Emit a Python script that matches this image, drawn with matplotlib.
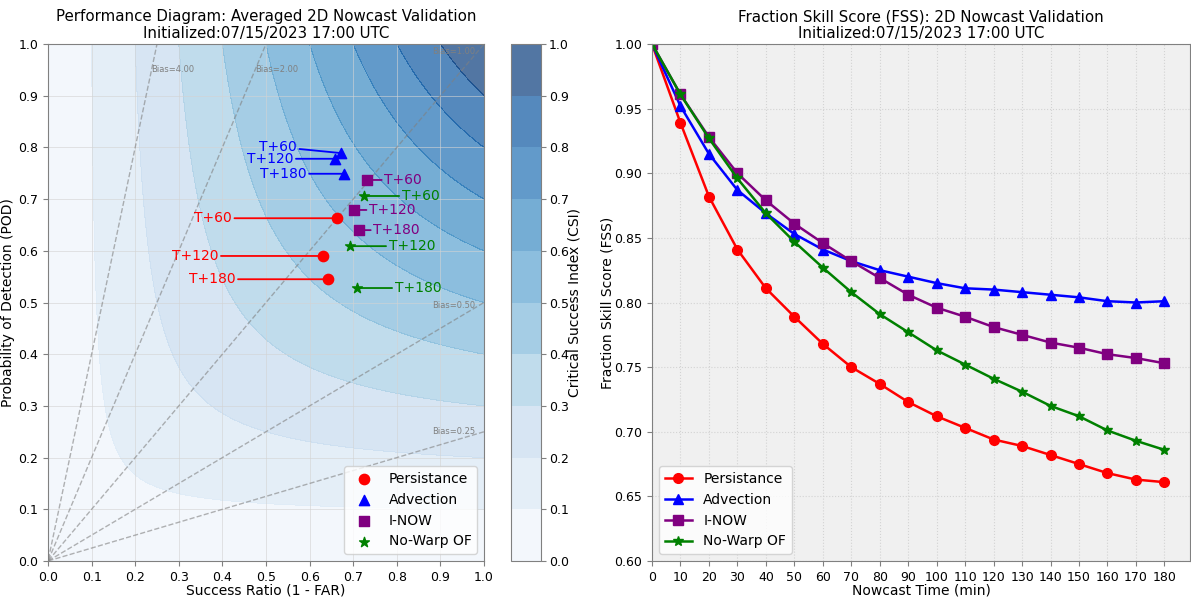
import numpy as np
import matplotlib
matplotlib.use("Agg")
import matplotlib.pyplot as plt

# ---- performance diagram data (success ratio, POD) ----
lead_labels = ["T+60", "T+120", "T+180"]
sr_persist = [0.663, 0.631, 0.642]
pod_persist = [0.663, 0.590, 0.545]
sr_advect = [0.672, 0.658, 0.679]
pod_advect = [0.789, 0.778, 0.749]
sr_inow = [0.732, 0.702, 0.713]
pod_inow = [0.737, 0.679, 0.640]
sr_nowarp = [0.725, 0.693, 0.709]
pod_nowarp = [0.706, 0.609, 0.528]
bias_values = [0.25, 0.5, 1.0, 2.0, 4.0]

# ---- FSS data ----
nowcast_time = [0, 10, 20, 30, 40, 50, 60, 70, 80, 90, 100, 110, 120, 130, 140, 150, 160, 170, 180]
fss_persist = [1.0, 0.939, 0.882, 0.841, 0.811, 0.789, 0.768, 0.750, 0.737, 0.723, 0.712,
               0.703, 0.694, 0.689, 0.682, 0.675, 0.668, 0.663, 0.661]
fss_advect = [1.0, 0.952, 0.915, 0.887, 0.869, 0.853, 0.841, 0.832, 0.825, 0.820, 0.815,
              0.811, 0.810, 0.808, 0.806, 0.804, 0.801, 0.800, 0.801]
fss_inow = [1.0, 0.961, 0.928, 0.900, 0.879, 0.861, 0.846, 0.832, 0.819, 0.806, 0.796,
            0.789, 0.781, 0.775, 0.769, 0.765, 0.760, 0.757, 0.753]
fss_nowarp = [1.0, 0.961, 0.927, 0.896, 0.869, 0.847, 0.827, 0.808, 0.791, 0.777, 0.763,
              0.752, 0.741, 0.731, 0.720, 0.712, 0.701, 0.693, 0.686]

methods = ["Persistance", "Advection", "I-NOW", "No-Warp OF"]
colors = ["red", "blue", "purple", "green"]
markers = ["o", "^", "s", "*"]

fig = plt.figure(figsize=(11.91, 5.98), dpi=100)
ax1 = fig.add_axes([48 / 1191, 37 / 598, 436 / 1191, 517 / 598])
cax = fig.add_axes([511 / 1191, 37 / 598, 30 / 1191, 517 / 598])
ax2 = fig.add_axes([652 / 1191, 37 / 598, 538 / 1191, 517 / 598])

# CSI background
grid = np.linspace(0.001, 1, 300)
SR, POD = np.meshgrid(grid, grid)
CSI = 1.0 / (1.0 / SR + 1.0 / POD - 1.0)
cf = ax1.contourf(SR, POD, CSI, levels=np.arange(0, 1.01, 0.1), cmap="Blues", alpha=0.7)
cb = fig.colorbar(cf, cax=cax, ticks=np.arange(0, 1.01, 0.1))
cb.set_label("Critical Success Index (CSI)", fontsize=10, labelpad=-1)
cb.ax.tick_params(labelsize=9, color="gray", pad=2)
cb.outline.set_edgecolor("gray")

# bias lines
for b in bias_values:
    ax1.plot(grid, b * grid, "--", color="gray", lw=1, alpha=0.6)
    if b > 1:
        ax1.text(0.95 / b, 0.95, "Bias=%.2f" % b, fontsize=6, color="gray", ha="left", va="center")
    else:
        ax1.text(0.98, 0.98 * b + 0.005, "Bias=%.2f" % b, fontsize=6, color="gray", ha="right", va="center")

# markers with labels
points = [(sr_persist, pod_persist), (sr_advect, pod_advect), (sr_inow, pod_inow), (sr_nowarp, pod_nowarp)]
label_dx = [[-0.285, -0.294, -0.266], [-0.145, -0.149, -0.14], [0.083, 0.088, 0.087], [0.13, 0.142, 0.14]]
label_dy = [[0, 0, 0], [0.012, 0, 0], [0, 0, 0], [0, 0, 0]]
for (sr, pod), name, c, m, dxs, dys in zip(points, methods, colors, markers, label_dx, label_dy):
    ax1.scatter(sr, pod, color=c, marker=m, s=55, label=name, zorder=5)
    for i, lab in enumerate(lead_labels):
        ax1.annotate(lab, xy=(sr[i], pod[i]), xytext=(sr[i] + dxs[i], pod[i] + dys[i]),
                     color=c, fontsize=10, ha="center", va="center",
                     arrowprops=dict(arrowstyle="-", color=c, lw=1.3, shrinkA=0, shrinkB=0))

ax1.set_xlim(0, 1)
ax1.set_ylim(0, 1)
ax1.set_xticks(np.arange(0, 1.01, 0.1))
ax1.set_yticks(np.arange(0, 1.01, 0.1))
ax1.grid(True, color="lightgray", lw=0.6, alpha=0.7)
ax1.set_xlabel("Success Ratio (1 - FAR)", fontsize=10, labelpad=0)
ax1.set_ylabel("Probability of Detection (POD)", fontsize=10, labelpad=2)
ax1.set_title("Performance Diagram: Averaged 2D Nowcast Validation\nInitialized:07/15/2023 17:00 UTC",
              fontsize=10.8, pad=4)
ax1.legend(loc="lower right", fontsize=10)

# FSS lines
fss_series = [fss_persist, fss_advect, fss_inow, fss_nowarp]
for vals, name, c, m in zip(fss_series, methods, colors, markers):
    ax2.plot(nowcast_time, vals, color=c, marker=m, markersize=7, lw=1.8, label=name)

ax2.set_facecolor("#f0f0f0")
ax2.set_xlim(0, 189)
ax2.set_ylim(0.6, 1.0)
ax2.set_xticks(np.arange(0, 181, 10))
ax2.set_yticks(np.arange(0.6, 1.001, 0.05))
ax2.yaxis.set_major_formatter(matplotlib.ticker.FormatStrFormatter("%.2f"))
ax2.grid(True, color="lightgray", ls=":", lw=0.8)
ax2.set_xlabel("Nowcast Time (min)", fontsize=10, labelpad=0)
ax2.set_ylabel("Fraction Skill Score (FSS)", fontsize=10, labelpad=0)
ax2.set_title("Fraction Skill Score (FSS): 2D Nowcast Validation\nInitialized:07/15/2023 17:00 UTC",
              fontsize=10.8, pad=4)
ax2.legend(loc="lower left", fontsize=10)

for ax in (ax1, ax2):
    ax.tick_params(labelsize=9, color="gray")
    for sp in ax.spines.values():
        sp.set_color("gray")

fig.savefig("out.png", dpi=100)
